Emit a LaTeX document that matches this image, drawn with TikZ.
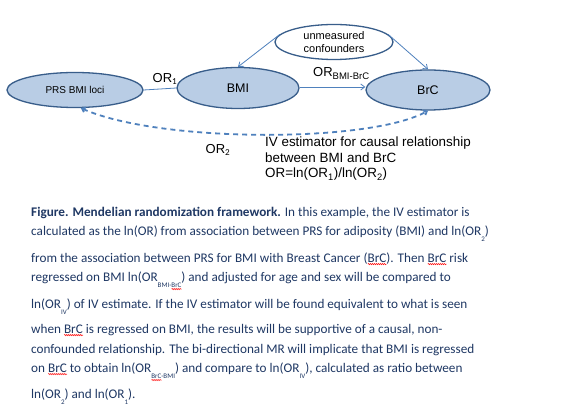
\documentclass[tikz,border=0pt]{standalone}
\usepackage{fontspec}
\setmainfont{Carlito}
\newfontfamily\arialf{Liberation Sans}
\usetikzlibrary{shapes.geometric,arrows.meta,decorations.pathmorphing}
\definecolor{ellfill}{HTML}{B9CDE5}
\definecolor{elledge}{HTML}{385D8A}
\definecolor{conn}{HTML}{4F81BD}
\definecolor{captc}{HTML}{1F3864}
\newcommand\lowsub[1]{\raisebox{-6pt}{\fontsize{7}{8}\selectfont #1}}
\newsavebox\sperrbox
\newcommand\sperr[1]{\sbox\sperrbox{#1}\rlap{\raisebox{-3pt}{\tikz[x=1pt,y=1pt]\draw[red,line width=0.45pt,decorate,decoration={zigzag,amplitude=0.7pt,segment length=2pt}] (0,0) -- (\wd\sperrbox,0);}}\usebox\sperrbox}
\begin{document}
\begin{tikzpicture}[x=1pt,y=-1pt,
  ell/.style={ellipse,draw=elledge,line width=1.3pt,fill=ellfill,inner sep=0pt,font=\arialf\fontsize{12.5}{14}\selectfont},
  connline/.style={draw=conn,line width=0.8pt},
  carrow/.style={connline,-{Straight Barb[length=4pt,width=6pt]}},
  dasharrow/.style={draw=conn,line width=1.8pt,dash pattern=on 5pt off 4pt,{Straight Barb[length=3pt,width=5pt]}-{Straight Barb[length=3pt,width=5pt]}},
  lab/.style={font=\arialf\fontsize{13}{15}\selectfont,inner sep=0pt},
  capline/.style={anchor=base west,inner sep=0pt,text=captc,font=\fontsize{13.2}{16}\selectfont}
]
\useasboundingbox (0,0) rectangle (585,411);
\fill[white] (0,0) rectangle (585,411);
% nodes
\node[ell,minimum width=136pt,minimum height=35pt,font=\arialf\fontsize{10}{12}\selectfont] (prs) at (75,90) {PRS BMI loci};
\node[ell,minimum width=122pt,minimum height=41pt] (bmi) at (238,88) {BMI};
\node[ell,minimum width=124pt,minimum height=40pt] (brc) at (428,90) {BrC};
\node[ellipse,draw=elledge,line width=1.3pt,fill=white,minimum width=118pt,minimum height=35pt,inner sep=0pt,align=center,font=\arialf\fontsize{11}{13.5}\selectfont] (u) at (334,42) {unmeasured\\confounders};
% connectors
\draw[connline] (prs.east) -- (bmi.west);
\draw[carrow] (bmi.east |- 0,87) -- (brc.west |- 0,87);
\draw[carrow] (u.172) -- (bmi.north);
\draw[carrow] (u.8) -- (brc.north);
\draw[dasharrow] (prs.-72) .. controls (160,143) and (370,143) .. (brc.-90);
% labels
\node[lab] (or1) at (165,79) {OR$_{\mathrm{1}}$};
\node[lab,anchor=base west] (orb) at (313,77) {OR\textsubscript{\fontsize{9.5}{10}\selectfont BMI-BrC}};
\node[lab] (or2) at (218,150) {OR$_{\mathrm{2}}$};
\node[lab,anchor=north west,align=left,font=\arialf\fontsize{13.4}{15.5}\selectfont] (iv) at (265,137) {IV estimator for causal relationship\\between BMI and BrC\\OR=ln(OR\textsubscript{1})/ln(OR\textsubscript{2})};
% caption
\node[capline] (c1) at (31,217) {\textbf{Figure. Mendelian randomization framework.} In this example, the IV estimator is};
\node[capline] (c2) at (31,236) {calculated as the ln(OR) from association between PRS for adiposity (BMI) and ln(OR\lowsub{2})};
\node[capline] (c3) at (31,262) {from the association between PRS for BMI with Breast Cancer (\sperr{BrC}). Then \sperr{BrC} risk};
\node[capline] (c4) at (31,281) {regressed on BMI ln(OR\lowsub{BMI-\sperr{BrC}}) and adjusted for age and sex will be compared to};
\node[capline] (c5) at (31,308) {ln(OR\lowsub{IV}) of IV estimate. If the IV estimator will be found equivalent to what is seen};
\node[capline] (c6) at (31,333) {when \sperr{BrC} is regressed on BMI, the results will be supportive of a causal, non-};
\node[capline] (c7) at (31,353) {confounded relationship. The bi-directional MR will implicate that BMI is regressed};
\node[capline] (c8) at (31,372) {on \sperr{BrC} to obtain ln(OR\lowsub{\sperr{BrC}-BMI}) and compare to ln(OR\lowsub{IV}), calculated as ratio between};
\node[capline] (c9) at (31,398) {ln(OR\lowsub{2}) and ln(OR\lowsub{1}).};
\end{tikzpicture}
\end{document}
